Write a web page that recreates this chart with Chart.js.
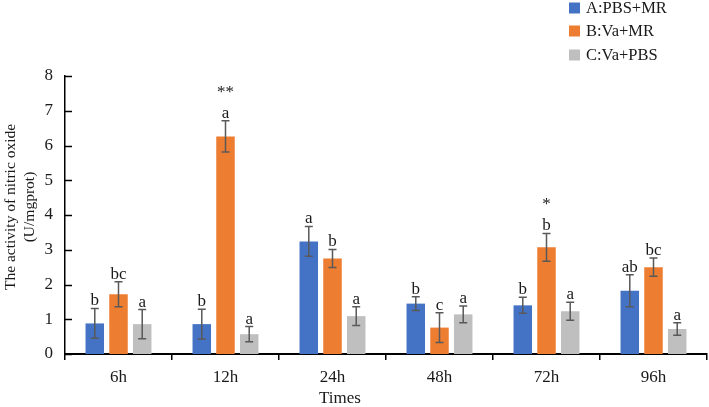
<!DOCTYPE html>
<html>
<head>
<meta charset="utf-8">
<script src="https://cdn.jsdelivr.net/npm/chart.js@4"></script>
<style>
html,body{margin:0;padding:0;background:#fff;}
#wrap{width:709px;height:407px;}
</style>
</head>
<body>
<div id="wrap"><canvas id="c" width="709" height="407"></canvas></div>
<script>
const categories = ['6h', '12h', '24h', '48h', '72h', '96h'];
const seriesNames = ['A:PBS+MR', 'B:Va+MR', 'C:Va+PBS'];
const valuesA = [0.88, 0.86, 3.24, 1.45, 1.40, 1.82];
const errorsA = [0.43, 0.43, 0.43, 0.20, 0.23, 0.46];
const valuesB = [1.72, 6.26, 2.75, 0.76, 3.07, 2.50];
const errorsB = [0.36, 0.45, 0.26, 0.43, 0.40, 0.26];
const valuesC = [0.86, 0.57, 1.09, 1.14, 1.23, 0.72];
const errorsC = [0.42, 0.22, 0.27, 0.24, 0.26, 0.18];
const lettersA = ['b', 'b', 'a', 'b', 'b', 'ab'];
const lettersB = ['bc', 'a', 'b', 'c', 'b', 'bc'];
const lettersC = ['a', 'a', 'a', 'a', 'a', 'a'];
const starsB = ['', '**', '', '', '*', ''];
const yTicks = [0, 1, 2, 3, 4, 5, 6, 7, 8];
const yTitle = ['The activity of nitric oxide', '(U/mgprot)'];
const xTitle = 'Times';

const colors = ['#4472C4', '#ED7D31', '#BFBFBF'];
const FONT = '"Liberation Serif", "Times New Roman", serif';
const FS = 17;

const errs = [errorsA, errorsB, errorsC];
const letters = [lettersA, lettersB, lettersC];
const stars = [null, starsB, null];

const overlay = {
  id: 'overlay',
  afterDatasetsDraw(chart) {
    const ctx = chart.ctx;
    const y = chart.scales.y;
    const area = chart.chartArea;
    ctx.save();
    // inward y ticks
    ctx.strokeStyle = '#000';
    ctx.lineWidth = 1.5;
    y.ticks.forEach(t => {
      const py = Math.round(y.getPixelForValue(t.value)) + 0.5;
      ctx.beginPath();
      ctx.moveTo(area.left, py);
      ctx.lineTo(area.left + 7, py);
      ctx.stroke();
    });
    // error bars + letters
    chart.data.datasets.forEach((ds, di) => {
      const meta = chart.getDatasetMeta(di);
      meta.data.forEach((bar, i) => {
        const v = ds.data[i];
        const e = errs[di][i];
        const px = bar.x;
        const top = y.getPixelForValue(v + e);
        const bot = y.getPixelForValue(v - e);
        ctx.strokeStyle = '#595959';
        ctx.lineWidth = 1.5;
        ctx.beginPath();
        ctx.moveTo(px, top); ctx.lineTo(px, bot);
        ctx.moveTo(px - 4, top); ctx.lineTo(px + 4, top);
        ctx.moveTo(px - 4, bot); ctx.lineTo(px + 4, bot);
        ctx.stroke();
        ctx.fillStyle = '#1a1a1a';
        ctx.font = FS + 'px ' + FONT;
        ctx.textAlign = 'center';
        ctx.textBaseline = 'alphabetic';
        const base = top - 3;
        ctx.fillText(letters[di][i], px, base);
        if (stars[di] && stars[di][i]) {
          ctx.fillText(stars[di][i], px, base - 21);
        }
      });
    });
    ctx.fillStyle = '#1a1a1a';
    // y title
    ctx.save();
    ctx.font = '15.5px ' + FONT;
    ctx.translate(0, 207);
    ctx.rotate(-Math.PI / 2);
    ctx.textAlign = 'center';
    ctx.textBaseline = 'middle';
    ctx.fillText(yTitle[0], 0, 10.5);
    ctx.fillText(yTitle[1], 0, 30);
    ctx.restore();
    // x title
    ctx.font = FS + 'px ' + FONT;
    ctx.textAlign = 'center';
    ctx.textBaseline = 'middle';
    ctx.fillText(xTitle, 340, 399);
    // legend
    ctx.font = '16.5px ' + FONT;
    ctx.textAlign = 'left';
    const rows = [8, 31, 55];
    seriesNames.forEach((n, k) => {
      ctx.fillStyle = colors[k];
      ctx.fillRect(569, rows[k] - 5.5, 11, 11);
      ctx.fillStyle = '#1a1a1a';
      ctx.fillText(n, 586, rows[k] + 1);
    });
    ctx.restore();
  }
};

new Chart(document.getElementById('c'), {
  type: 'bar',
  data: {
    labels: categories,
    datasets: [
      { label: seriesNames[0], data: valuesA, backgroundColor: colors[0] },
      { label: seriesNames[1], data: valuesB, backgroundColor: colors[1] },
      { label: seriesNames[2], data: valuesC, backgroundColor: colors[2] }
    ]
  },
  options: {
    responsive: false,
    animation: false,
    devicePixelRatio: 1,
    categoryPercentage: 0.665,
    barPercentage: 0.78,
    layout: { padding: { top: 76, right: 2, left: 0, bottom: 0 } },
    plugins: { legend: { display: false }, tooltip: { enabled: false } },
    scales: {
      x: {
        afterFit(s) { s.height = 53; },
        grid: { display: true, drawOnChartArea: false, drawTicks: true, tickLength: 6, color: '#000', lineWidth: 1.5, offset: true },
        border: { display: true, color: '#000', width: 2 },
        ticks: { color: '#1a1a1a', font: { family: FONT, size: FS }, padding: 7 }
      },
      y: {
        min: 0, max: 8,
        afterFit(s) { s.width = 65; },
        afterBuildTicks(s) { s.ticks = yTicks.map(v => ({ value: v })); },
        grid: { display: false, drawTicks: false },
        border: { display: true, color: '#000', width: 1.5 },
        ticks: { color: '#1a1a1a', font: { family: FONT, size: FS }, padding: 12 }
      }
    }
  },
  plugins: [overlay]
});
</script>
</body>
</html>
